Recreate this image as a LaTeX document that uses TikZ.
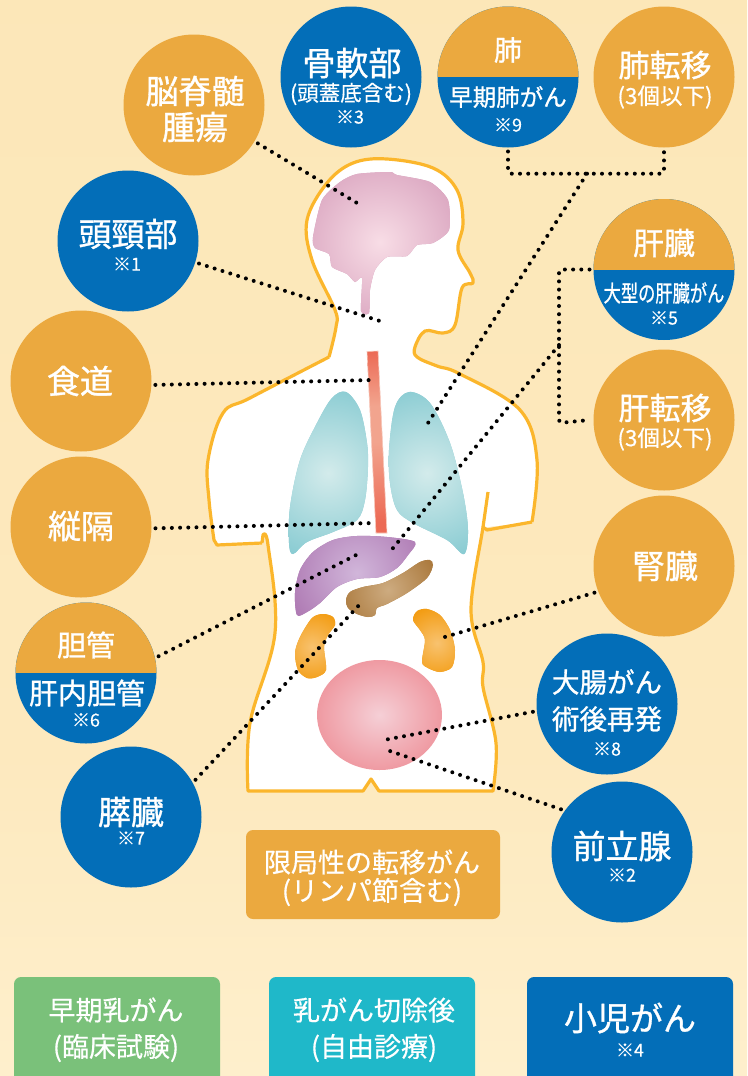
\documentclass[tikz,border=0pt]{standalone}
\usepackage{graphicx}
\usepackage{fontspec}
\setmainfont{Noto Sans CJK JP}[FakeBold=1.0]
\newfontfamily\thinf{Noto Sans CJK JP}[FakeBold=0.45]
\usetikzlibrary{calc}
\definecolor{oran}{HTML}{EBA93F}
\definecolor{blu}{HTML}{036EB8}
\definecolor{grn}{HTML}{7AC17A}
\definecolor{tea}{HTML}{1FB8C9}
\definecolor{bodyl}{HTML}{FBB62C}
\definecolor{bg0}{HTML}{FDE9C0}
\definecolor{bg1}{HTML}{FEF4DE}
\definecolor{bg2}{HTML}{FEF0CE}
\definecolor{bg3}{HTML}{FDE9BE}
\definecolor{bg4}{HTML}{FCE7B8}
\definecolor{bg5}{HTML}{FEF1D6}
\definecolor{bg6}{HTML}{FDEDCC}
\definecolor{eso1}{HTML}{EC6A55}
\definecolor{eso2}{HTML}{F2A48E}
\pgfdeclareverticalshading{bgsh}{100bp}{color(0bp)=(bg0); color(12bp)=(bg1); color(23bp)=(bg2); color(40bp)=(bg3); color(77bp)=(bg4); color(94bp)=(bg5); color(100bp)=(bg6)}
\pgfdeclareverticalshading{esoph}{100bp}{color(0bp)=(eso1); color(28bp)=(eso1); color(50bp)=(eso2); color(60bp)=(eso2); color(75bp)=(eso1); color(100bp)=(eso1)}
\tikzset{
 bub/.style={circle,minimum size=141pt,inner sep=0pt,outer sep=4pt},
 ot/.style={text=white,font=\fontsize{33}{33}\selectfont,inner sep=0pt},
 ot31/.style={text=white,font=\fontsize{31}{31}\selectfont,inner sep=0pt},
 ot29/.style={text=white,font=\fontsize{29}{29}\selectfont,inner sep=0pt},
 mt/.style={text=white,font=\fontsize{23.5}{23.5}\selectfont,inner sep=0pt},
 st/.style={text=white,font=\thinf\fontsize{21.5}{21.5}\selectfont,inner sep=0pt},
 nt/.style={text=white,font=\thinf\fontsize{18}{18}\selectfont,inner sep=0pt},
 bt/.style={text=white,font=\thinf\fontsize{27}{27}\selectfont,inner sep=0pt},
 dotline/.style={line width=4pt,line cap=round,dash pattern=on 0pt off 8.2pt,black,rounded corners=3pt},
 boxn/.style={rounded corners=7pt,inner sep=0pt},
 bodyline/.style={bodyl,line width=3.2pt,line join=round},
}
\newcommand{\organ}[6]{% path, cx, cy, r, inner, outer
 \begin{scope}
 \definecolor{oi}{HTML}{#5}\definecolor{oo}{HTML}{#6}
 \fill[oo] #1;
 \clip #1;
 \shade[inner color=oi,outer color=oo] (#2,#3) circle (#4);
 \end{scope}}
\begin{document}
\begin{tikzpicture}[x=1pt,y=-1pt]
\useasboundingbox (0,0) rectangle (747,1076);
\shade[shading=bgsh] (0,0) rectangle (747,1076);
% body
\fill[white] plot[smooth,tension=0.6] coordinates {(214,544)(209,500)(208,460)(223,413)(250,398)(329,357)}
 -- plot[smooth,tension=0.6] coordinates {(329,357)(336,327)(335,310)(312,260)(307,220)(327,183)(353,163)(387,159)(433,168)(457,190)(463,223)(458,250)(470,273)(473,283)(462,288)(455,325)(443,333)(425,331)(415,347)(417,357)(437,366)(460,374)(520,410)(537,460)(532,522)}
 -- (488,527) -- (483,527) -- plot[smooth,tension=0.6] coordinates {(483,527)(471,610)(483,662)(483,687)(496,743)(493,791)}
 -- (379,791) -- (371,779) -- (363,791) -- (248,791)
 -- plot[smooth,tension=0.6] coordinates {(248,791)(250,723)(275,633)(268,545)(263,535)} -- (262,543) -- cycle;
\draw[bodyline] (262,543) -- (217,545) -- plot[smooth,tension=0.6] coordinates {(214,540)(209,500)(208,460)(223,413)(250,398)(329,357)}
 plot[smooth,tension=0.6] coordinates {(329,357)(336,327)(335,310)(312,260)(307,220)(327,183)(353,163)(387,159)(433,168)(457,190)(463,223)(458,250)(470,273)(473,283)(462,288)(455,325)(443,333)(425,331)(415,347)(417,357)(437,366)(460,374)(520,410)(537,460)(532,522)};
\draw[bodyline] (532,522) -- (487,530) -- (483,527);
\draw[bodyline] plot[smooth,tension=0.6] coordinates {(488,492)(483,527)(471,610)(483,662)(483,687)(496,743)(493,791)}
 -- (379,791) -- (371,779) -- (363,791) -- (248,791)
 -- plot[smooth,tension=0.6] coordinates {(248,791)(250,723)(275,633)(268,545)(263,535)} -- (262,543);
% organs
\newcommand{\brainp}{plot[smooth cycle,tension=0.4] coordinates {(313,237)(322,200)(340,182)(357,174)(390,172)(397,175)(430,182)(448,200)(449,230)(433,243)(417,245)(407,256)(387,257)(375,270)(370,290)(369,313)(361,311)(362,278)(355,282)(347,274)(332,267)(329,254)(315,248)}}
\organ{\brainp}{380}{242}{105}{F8DDE6}{D49AB8}
\newcommand{\lungl}{plot[smooth cycle,tension=0.55] coordinates {(346,392)(360,410)(367,443)(368,467)(365,500)(357,520)(333,532)(307,542)(293,554)(289,543)(290,507)(300,460)(317,423)(332,398)}}
\organ{\lungl}{328}{473}{90}{D3EBEB}{88CBD2}
\newcommand{\lungr}{plot[smooth cycle,tension=0.55] coordinates {(409,392)(430,403)(450,443)(463,493)(468,530)(464,554)(447,540)(413,523)(397,510)(390,483)(389,450)(395,407)}}
\organ{\lungr}{427}{473}{90}{D3EBEB}{88CBD2}
\shade[shading=esoph,draw=white!40!eso2,line width=.6pt] (367,351.5) -- (378,351) -- (387,533) -- (376,533) -- cycle;
\newcommand{\liverp}{plot[smooth cycle,tension=0.5] coordinates {(297,615)(295,593)(300,570)(313,552)(333,540)(357,536)(387,537)(415,542)(408,555)(397,568)(380,577)(357,579)(337,587)(320,603)(307,612)}}
\organ{\liverp}{357}{573}{85}{D1B6DA}{A970AD}
\newcommand{\pancp}{plot[smooth cycle,tension=0.5] coordinates {(346,600)(350,592)(363,587)(383,583)(403,573)(420,562)(430,560)(433,565)(427,578)(407,593)(387,604)(377,608)(375,615)(368,617)(357,614)(348,608)}}
\organ{\pancp}{388}{590}{50}{CDAB80}{AC7B3F}
\newcommand{\kidl}{plot[smooth cycle,tension=0.5] coordinates {(295,653)(300,637)(312,618)(323,614)(333,617)(335,625)(328,635)(324,647)(326,670)(317,677)(307,678)(298,670)}}
\organ{\kidl}{312}{647}{37}{F8C26F}{F39C12}
\newcommand{\kidr}{plot[smooth cycle,tension=0.5] coordinates {(413,620)(417,611)(427,609)(440,615)(450,630)(455,650)(452,667)(440,672)(428,668)(422,662)(425,640)(420,630)}}
\organ{\kidr}{437}{643}{37}{F8C26F}{F39C12}
\definecolor{bli}{HTML}{F5CFD6}\definecolor{blo}{HTML}{EF9AA2}
\shade[inner color=bli,outer color=blo] (379.5,715) ellipse [x radius=62.5,y radius=55];
% bubbles
\node[bub,fill=oran] (brainT) at (194,105) {};
\node[bub,fill=blu] (bone) at (351,77) {};
\node[bub,fill=blu,path picture={\fill[oran] (-100,-100) rectangle (100,0);}] (lungE) at (508,77) {};
\node[bub,fill=oran] (lungM) at (664,77) {};
\node[bub,fill=blu] (headneck) at (128,241) {};
\node[bub,fill=blu,path picture={\fill[oran] (-100,-100) rectangle (100,0);}] (liver) at (664,269.5) {};
\node[bub,fill=oran] (liverM) at (664,420) {};
\node[bub,fill=oran] (eso) at (81,381) {};
\node[bub,fill=oran] (medi) at (81,527) {};
\node[bub,fill=oran] (kidney) at (664,566) {};
\node[bub,fill=blu,path picture={\fill[oran] (-100,-100) rectangle (100,0);}] (bile) at (86,673) {};
\node[bub,fill=blu] (colon) at (607,704) {};
\node[bub,fill=blu] (prost) at (622,852) {};
\node[bub,fill=blu] (panc) at (131,817) {};
% connectors
\coordinate (eBrain) at (362,206);
\coordinate (eNeck) at (380,321);
\coordinate (eEso) at (373,380);
\coordinate (eMedi) at (375,523);
\coordinate (eBile) at (362,552);
\coordinate (ePanc) at (362,602);
\coordinate (eKid) at (438,639);
\coordinate (eCol) at (384,740);
\coordinate (ePro) at (384,749);
\coordinate (eLung) at (428,423);
\coordinate (jLung) at (587,173.7);
\coordinate (eLiver) at (389,553);
\coordinate (jLiver) at (559,345);
\coordinate (cLiver) at (559,269.5);
\coordinate (dLiver) at (559,423);
\draw[dotline] (brainT) -- (eBrain);
\draw[dotline] (headneck) -- (eNeck);
\draw[dotline] (eso.-3) -- (eEso);
\draw[dotline] (medi.-1) -- (eMedi);
\draw[dotline] (bile.13) -- (eBile);
\draw[dotline] (panc.30) -- (ePanc);
\draw[dotline] (kidney.201) -- (eKid);
\draw[dotline] (colon.186) -- (eCol);
\draw[dotline] (prost.145) -- (ePro);
\draw[dotline] (lungE.south) |- (jLung) -| (lungM.south);
\draw[dotline] (jLung) -- (eLung);
\draw[dotline] (liver.west) -- (cLiver) -- (dLiver) -- (liverM.west);
\draw[dotline] (jLiver) -- (eLiver);
% texts
\node[ot] (tb1) at (195,91) {脳脊髄};
\node[ot] (tb2) at (195,127) {腫瘍};
\node[ot] (tbo1) at (352,63) {骨軟部};
\node[st] (tbo2) at (351,94) {(頭蓋底含む)};
\node[nt] (tbo3) at (350,117) {※3};
\node[ot29,font=\fontsize{28}{28}\selectfont] (tl1) at (508,50) {肺};
\node[mt] (tl2) at (508,97) {早期肺がん};
\node[nt] (tl3) at (508,125) {※9};
\node[ot31] (tm1) at (665,65) {肺転移};
\node[st,font=\thinf\fontsize{22.5}{22.5}\selectfont] (tm2) at (665,97) {(3個以下)};
\node[ot] (th1) at (128,234) {頭頸部};
\node[nt] (th2) at (127,264) {※1};
\node[ot31] (tv1) at (664,243) {肝臓};
\node[text=white,font=\fontsize{23}{23}\selectfont,inner sep=0pt] (tv2) at (664,293) {\scalebox{.75}[1]{大型の肝臓がん}};
\node[nt] (tv3) at (664,318) {※5};
\node[ot31] (tlm1) at (665,408) {肝転移};
\node[st,font=\thinf\fontsize{22.5}{22.5}\selectfont] (tlm2) at (665,439) {(3個以下)};
\node[ot] (te) at (80,381) {食道};
\node[ot] (tme) at (81,526) {縦隔};
\node[ot] (tk) at (665,566) {腎臓};
\node[ot29] (tbi1) at (86,645) {胆管};
\node[ot29] (tbi2) at (87,693) {肝内胆管};
\node[nt] (tbi3) at (86,720) {※6};
\node[ot29,font=\fontsize{27.5}{27.5}\selectfont] (tc1) at (607,682) {大腸がん};
\node[ot29,font=\fontsize{27.5}{27.5}\selectfont] (tc2) at (607,719) {術後再発};
\node[nt] (tc3) at (607,749) {※8};
\node[ot] (tp1) at (622,846) {前立腺};
\node[nt] (tp2) at (622,875) {※2};
\node[ot] (tpa1) at (131,812) {膵臓};
\node[nt] (tpa2) at (131,838) {※7};
% boxes
\node[boxn,fill=oran,minimum width=254pt,minimum height=89pt] (bLoc) at (373,874.5) {};
\node[bt] (bLoc1) at (372,862) {限局性の転移がん};
\node[bt] (bLoc2) at (372,892) {(リンパ節含む)};
\fill[grn,rounded corners=7pt] (14,977) rectangle (220,1095);
\fill[tea,rounded corners=7pt] (269,977) rectangle (475,1095);
\fill[blu,rounded corners=7pt] (527,977) rectangle (733,1095);
\node[bt] (bG1) at (116,1010) {早期乳がん};
\node[bt] (bG2) at (116,1048) {(臨床試験)};
\node[bt] (bT1) at (374,1010) {乳がん切除後};
\node[bt] (bT2) at (374,1048) {(自由診療)};
\node[ot] (bB1) at (630,1018) {小児がん};
\node[nt] (bB2) at (630,1050) {※4};
\end{tikzpicture}
\end{document}
